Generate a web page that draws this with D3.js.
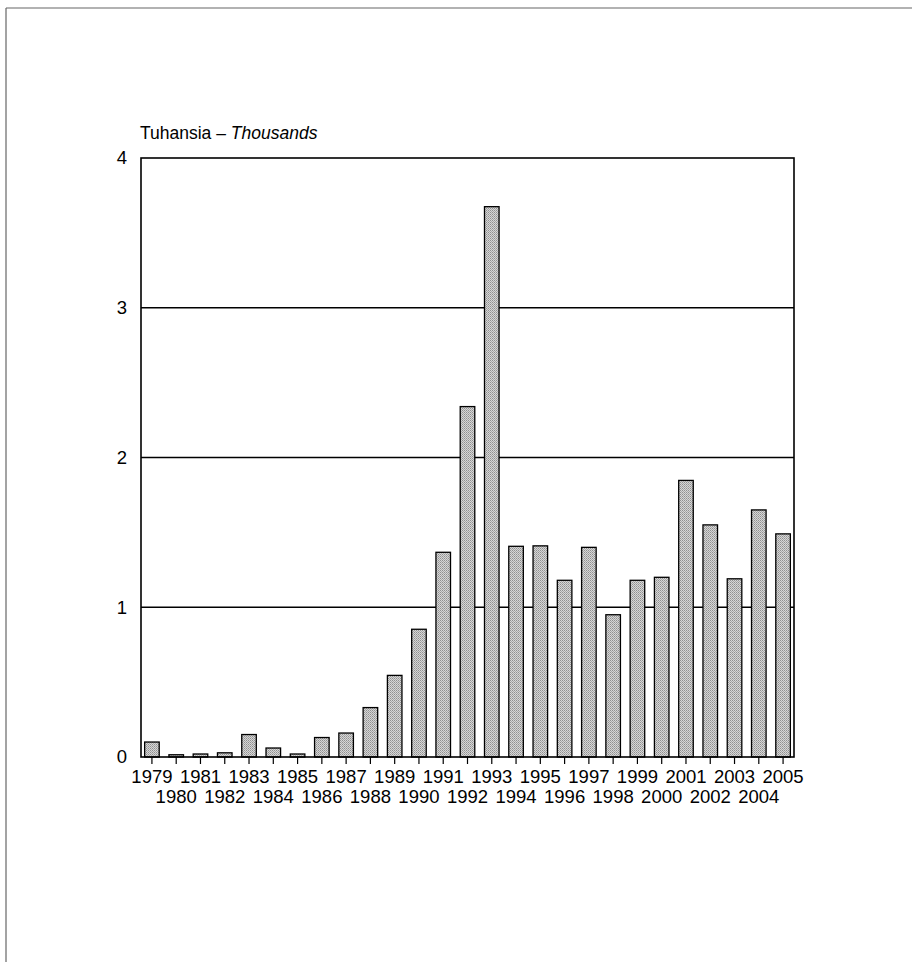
<!DOCTYPE html>
<html>
<head>
<meta charset="utf-8">
<script src="https://cdn.jsdelivr.net/npm/d3@7/dist/d3.min.js"></script>
<style>
  html, body { margin: 0; padding: 0; background: #fff; }
  svg { display: block; }
  svg text { font-family: "Liberation Sans", Arial, Helvetica, sans-serif; }
</style>
</head>
<body>
<svg id="chart" width="912" height="962"></svg>
<script>
const years = ["1979","1980","1981","1982","1983","1984","1985","1986","1987","1988",
  "1989","1990","1991","1992","1993","1994","1995","1996","1997","1998",
  "1999","2000","2001","2002","2003","2004","2005"];
const values = [0.10, 0.015, 0.02, 0.028, 0.15, 0.06, 0.02, 0.13, 0.16, 0.33,
  0.545, 0.853, 1.367, 2.34, 3.675, 1.407, 1.41, 1.18, 1.40, 0.95,
  1.18, 1.20, 1.847, 1.55, 1.19, 1.65, 1.49];
const yTicks = [0, 1, 2, 3, 4];
const titleMain = "Tuhansia – ";
const titleUnit = "Thousands";

(function () {
const svg = d3.select("#chart");
const pL = 141, pR = 794, pT = 158, pB = 757;
const FONT = "'Liberation Sans', Arial, Helvetica, sans-serif";

// halftone-like pattern
const defs = svg.append("defs");
const pat = defs.append("pattern").attr("id", "dots")
  .attr("width", 2).attr("height", 2).attr("patternUnits", "userSpaceOnUse");
pat.append("rect").attr("width", 2).attr("height", 2).attr("fill", "#d6d6d6");
pat.append("rect").attr("width", 1).attr("height", 1).attr("fill", "#909090");
pat.append("rect").attr("x", 1).attr("y", 1).attr("width", 1).attr("height", 1).attr("fill", "#a8a8a8");

// page border (scan frame)
svg.append("line").attr("x1", 6).attr("y1", 8).attr("x2", 912).attr("y2", 8)
  .attr("stroke", "#666").attr("stroke-width", 1.2);
svg.append("line").attr("x1", 6).attr("y1", 8).attr("x2", 6).attr("y2", 962)
  .attr("stroke", "#666").attr("stroke-width", 1.2);

const x = d3.scaleBand().domain(years).range([pL, pR]).paddingInner(0.4).paddingOuter(0.15);
const y = d3.scaleLinear().domain([0, 4]).range([pB, pT]);

// gridlines
svg.append("g").selectAll("line").data(yTicks.filter(d => d > 0 && d < 4)).join("line")
  .attr("x1", pL).attr("x2", pR)
  .attr("y1", d => y(d)).attr("y2", d => y(d))
  .attr("stroke", "#000").attr("stroke-width", 1.3);

// bars
svg.append("g").selectAll("rect").data(years).join("rect")
  .attr("x", d => x(d))
  .attr("width", x.bandwidth())
  .attr("y", (d, i) => y(values[i]))
  .attr("height", (d, i) => y(0) - y(values[i]))
  .attr("fill", "url(#dots)")
  .attr("stroke", "#000").attr("stroke-width", 1.3);

// frame
svg.append("rect").attr("x", pL).attr("y", pT)
  .attr("width", pR - pL).attr("height", pB - pT)
  .attr("fill", "none").attr("stroke", "#000").attr("stroke-width", 1.6);

// x axis
const xAxis = d3.axisBottom(x).tickSize(7).tickSizeOuter(0).tickPadding(4);
const gx = svg.append("g").attr("transform", `translate(0,${pB})`).call(xAxis)
  .attr("font-family", FONT).attr("font-size", 18.5);
gx.select(".domain").remove();
gx.selectAll(".tick line").attr("stroke", "#000").attr("stroke-width", 1.2);
gx.selectAll(".tick text")
  .attr("fill", "#000")
  .attr("dy", null)
  .attr("y", (d, i) => i % 2 === 0 ? 26 : 46);

// y axis
const yAxis = d3.axisLeft(y).tickValues(yTicks).tickSize(0).tickPadding(14).tickFormat(d3.format("d"));
const gy = svg.append("g").attr("transform", `translate(${pL},0)`).call(yAxis)
  .attr("font-family", FONT).attr("font-size", 18.5);
gy.select(".domain").remove();
gy.selectAll(".tick text").attr("fill", "#000");

// title
const t = svg.append("text").attr("x", pL - 1).attr("y", 139)
  .attr("font-family", FONT).attr("font-size", 17.5).attr("fill", "#000");
t.append("tspan").text(titleMain);
t.append("tspan").attr("font-style", "italic").text(titleUnit);
})();
</script>
</body>
</html>
